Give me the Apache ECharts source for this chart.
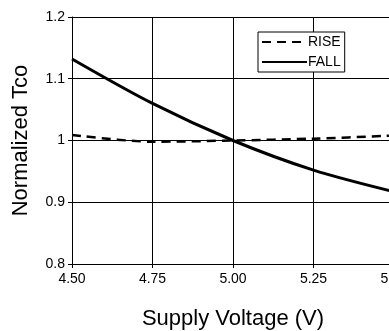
<!DOCTYPE html>
<html>
<head>
<meta charset="utf-8">
<script src="https://cdn.jsdelivr.net/npm/echarts@6/dist/echarts.min.js"></script>
<style>
  html, body { margin: 0; padding: 0; background: #fff; }
  #chart { width: 389px; height: 331px; }
</style>
</head>
<body>
<div id="chart"></div>
<script>
var voltages = [4.50, 4.75, 5.00, 5.25, 5.50];
var riseValues = [1.009, 0.998, 1.000, 1.003, 1.008];
var fallValues = [1.132, 1.060, 1.000, 0.952, 0.917];

function pairs(xs, ys) {
    var out = [];
    for (var i = 0; i < xs.length; i++) {
        out.push([xs[i], ys[i]]);
    }
    return out;
}

var font = 'Liberation Sans, Arial, sans-serif';

echarts.init(document.getElementById('chart')).setOption({
    animation: false,
    grid: {
        left: 72,
        right: -5,
        top: 17,
        bottom: 67,
        containLabel: false,
        outerBoundsMode: 'none'
    },
    legend: {
        left: 258,
        top: 32,
        orient: 'vertical',
        backgroundColor: '#fff',
        borderColor: '#000',
        borderWidth: 1,
        padding: [3, 4, 3, 3],
        itemGap: 6,
        itemWidth: 45,
        itemHeight: 12,
        itemStyle: { opacity: 0 },
        textStyle: {
            fontFamily: font,
            fontSize: 14,
            color: '#000',
            padding: [0, 0, 0, -4]
        },
        data: ['RISE', 'FALL']
    },
    xAxis: {
        type: 'value',
        min: 4.5,
        max: 5.5,
        interval: 0.25,
        name: 'Supply Voltage (V)',
        nameLocation: 'middle',
        nameGap: 44,
        nameTextStyle: { fontFamily: font, fontSize: 22, color: '#000' },
        axisLine: { lineStyle: { color: '#000', width: 1 } },
        axisTick: { show: true, length: 4, lineStyle: { color: '#000' } },
        axisLabel: {
            fontFamily: font,
            fontSize: 14,
            color: '#000',
            margin: 8,
            formatter: function (v) { return v.toFixed(2); }
        },
        splitLine: { show: true, lineStyle: { color: '#000', width: 1 } }
    },
    yAxis: {
        type: 'value',
        min: 0.8,
        max: 1.2,
        interval: 0.1,
        name: 'Normalized Tco',
        nameLocation: 'middle',
        nameGap: 40,
        nameTextStyle: { fontFamily: font, fontSize: 22, color: '#000' },
        axisLine: { show: true, lineStyle: { color: '#000', width: 1 } },
        axisTick: { show: true, length: 4, lineStyle: { color: '#000' } },
        axisLabel: {
            fontFamily: font,
            fontSize: 14,
            color: '#000',
            margin: 7,
            formatter: function (v) { return String(Math.round(v * 10) / 10); }
        },
        splitLine: { show: true, lineStyle: { color: '#000', width: 1 } }
    },
    series: [
        {
            name: 'RISE',
            type: 'line',
            smooth: 0.3,
            symbol: 'none',
            color: '#000',
            lineStyle: { color: '#000', width: 2.5, type: [9, 6] },
            data: pairs(voltages, riseValues)
        },
        {
            name: 'FALL',
            type: 'line',
            smooth: 0.3,
            symbol: 'none',
            color: '#000',
            lineStyle: { color: '#000', width: 3 },
            data: pairs(voltages, fallValues)
        }
    ]
});
</script>
</body>
</html>
